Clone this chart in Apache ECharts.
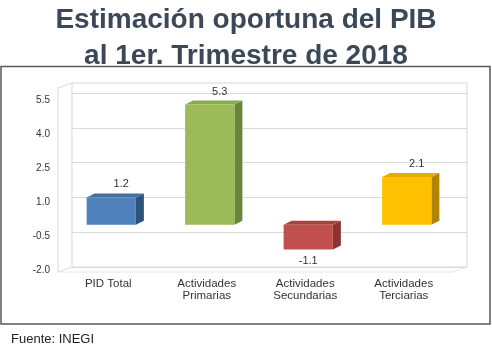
<!DOCTYPE html>
<html><head><meta charset="utf-8">
<script src="https://cdn.jsdelivr.net/npm/echarts@6/dist/echarts.min.js"></script>
<style>html,body{margin:0;padding:0;background:#fff}#c{width:492px;height:347px}</style>
</head><body><div id="c"></div>
<script>
const categories = ['PID Total', 'Actividades\nPrimarias', 'Actividades\nSecundarias', 'Actividades\nTerciarias'];
const values = [1.2, 5.3, -1.1, 2.1];
const valueLabels = ['1.2', '5.3', '-1.1', '2.1'];
const frontColors = ['#4f81bd', '#9bbb59', '#c0504d', '#ffc000'];
const topColors = ['#44709f', '#8aa84c', '#a9423f', '#e6ad00'];
const sideColors = ['#2f527c', '#6b8439', '#8a3331', '#b08300'];
const yMin = -2, yMax = 5.5, yStep = 1.5;

const chart = echarts.init(document.getElementById('c'));
const font = 'Liberation Sans, Arial, sans-serif';
const DX = 8, DY = 4;

chart.setOption({
  animation: false,
  title: {
    text: 'Estimación oportuna del PIB\nal 1er. Trimestre de 2018',
    left: 'center', top: 2, padding: 0,
    textStyle: { fontFamily: font, fontSize: 28, fontWeight: 'bold', color: '#3c4858', lineHeight: 36, align: 'center' }
  },
  grid: [
    { left: 62, right: 36, top: 100, bottom: 77 },
    { left: 72, right: 25, top: 93, bottom: 80 }
  ],
  xAxis: [
    { type: 'category', gridIndex: 0, data: categories,
      axisLine: { show: false }, axisTick: { show: false },
      axisLabel: { fontFamily: font, fontSize: 11.5, color: '#333', lineHeight: 12, margin: 8, padding: [0, 6, 0, 0] } },
    { type: 'category', gridIndex: 1, data: categories, show: false }
  ],
  yAxis: [
    { type: 'value', gridIndex: 0, min: yMin, max: yMax, interval: yStep,
      axisLine: { show: false }, axisTick: { show: false }, splitLine: { show: false },
      axisLabel: { fontFamily: font, fontSize: 10, color: '#333', margin: 12,
        formatter: v => v.toFixed(1) } },
    { type: 'value', gridIndex: 1, min: yMin, max: yMax, interval: yStep,
      axisLine: { show: false }, axisTick: { show: false }, axisLabel: { show: false },
      splitLine: { show: true, lineStyle: { color: '#d9d9d9', width: 1 } } }
  ],
  graphic: [
    { type: 'rect', z: 0, shape: { x: 1, y: 66.5, width: 489, height: 257.5 },
      style: { fill: 'none', stroke: '#5a5a5a', lineWidth: 1.5 } },
    { type: 'rect', z: 0, shape: { x: 72, y: 83, width: 395, height: 184 },
      style: { fill: 'none', stroke: '#d9d9d9', lineWidth: 1 } },
    { type: 'polyline', z: 0, shape: { points: [[72, 83], [58, 88], [58, 272], [72, 267]] },
      style: { fill: 'none', stroke: '#d9d9d9', lineWidth: 1 } },
    { type: 'polyline', z: 0, shape: { points: [[58, 272], [453, 272], [467, 267]] },
      style: { fill: 'none', stroke: '#e6e6e6', lineWidth: 1 } },
    { type: 'text', left: 11, top: 333,
      style: { text: 'Fuente: INEGI', fontFamily: font, fontSize: 13, fill: '#222' } }
  ],
  series: [{
    type: 'custom', xAxisIndex: 0, yAxisIndex: 0,
    data: values.map((v, i) => [i, v]),
    renderItem: function (params, api) {
      const i = api.value(0), v = api.value(1);
      const p0 = api.coord([i, 0]);
      const p1 = api.coord([i, v]);
      const w = api.size([1, 0])[0] * 0.5;
      const x = p0[0] - w / 2;
      const yTop = Math.min(p0[1], p1[1]);
      const yBot = Math.max(p0[1], p1[1]);
      const neg = v < 0;
      return {
        type: 'group',
        children: [
          { type: 'polygon', shape: { points: [[x + w, yTop], [x + w + DX, yTop - DY], [x + w + DX, yBot - DY], [x + w, yBot]] },
            style: { fill: sideColors[i] } },
          { type: 'polygon', shape: { points: [[x, yTop], [x + DX, yTop - DY], [x + w + DX, yTop - DY], [x + w, yTop]] },
            style: { fill: topColors[i] } },
          { type: 'rect', shape: { x: x, y: yTop, width: w, height: yBot - yTop },
            style: { fill: frontColors[i] } },
          { type: 'text',
            style: { text: valueLabels[i], x: neg ? p0[0] : p0[0] + 10, y: neg ? yBot + 11 : yTop - 13,
              align: 'center', verticalAlign: 'middle', fontFamily: font, fontSize: 11, fill: '#333' } }
        ]
      };
    }
  }]
});
</script>
</body></html>
